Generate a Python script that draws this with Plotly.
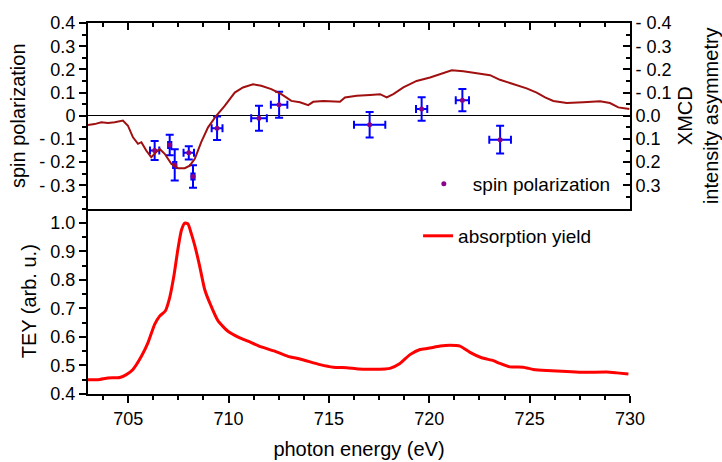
import plotly.graph_objects as go

# ---- data ----
xmcd_energy = [703.00, 703.33, 703.66, 704.00, 704.33, 704.74, 704.99, 705.24, 705.49, 705.66,
               705.90, 706.15, 706.40, 706.57, 706.82, 707.15, 707.48, 707.82, 708.07, 708.32,
               708.64, 708.98, 709.39, 709.81, 710.31, 710.72, 711.22, 711.63, 712.13, 712.63,
               713.13, 713.56, 713.97, 714.22, 714.72, 715.55, 715.80, 716.39, 717.05, 717.55,
               717.88, 718.21, 718.71, 719.37, 720.04, 720.70, 721.12, 721.70, 722.36, 723.03,
               723.52, 724.19, 724.85, 725.35, 725.77, 726.18, 726.85, 727.67, 728.51, 729.00,
               729.42, 729.97]
xmcd_value = [0.040, 0.036, 0.028, 0.031, 0.028, 0.021, 0.043, 0.093, 0.121, 0.114,
              0.150, 0.179, 0.157, 0.143, 0.164, 0.207, 0.226, 0.226, 0.215, 0.186,
              0.114, 0.050, 0.000, -0.043, -0.100, -0.122, -0.136, -0.129, -0.115, -0.093,
              -0.064, -0.058, -0.046, -0.060, -0.064, -0.060, -0.079, -0.086, -0.090, -0.093,
              -0.079, -0.093, -0.122, -0.150, -0.165, -0.183, -0.196, -0.192, -0.183, -0.175,
              -0.155, -0.136, -0.118, -0.100, -0.079, -0.064, -0.055, -0.058, -0.062, -0.055,
              -0.036, -0.029]

spin_energy = [706.32, 707.07, 707.32, 708.02, 708.23, 709.43, 711.52, 712.52, 717.03, 719.62, 721.65, 723.53]
spin_value = [-0.150, -0.126, -0.212, -0.160, -0.262, -0.054, -0.011, 0.047, -0.039, 0.029, 0.067, -0.103]
spin_err_y = [0.041, 0.044, 0.067, 0.029, 0.048, 0.051, 0.054, 0.056, 0.055, 0.051, 0.048, 0.060]
spin_err_x = [0.23, 0.08, 0.08, 0.26, 0.08, 0.27, 0.39, 0.41, 0.78, 0.28, 0.33, 0.54]

tey_energy = [703.00, 703.50, 704.00, 704.58, 704.91, 705.24, 705.66, 705.99, 706.32, 706.57,
              706.85, 707.07, 707.28, 707.48, 707.65, 707.82, 707.98, 708.15, 708.32, 708.56,
              708.81, 709.06, 709.48, 709.97, 710.56, 710.97, 711.63, 712.30, 712.96, 713.60,
              714.56, 715.22, 715.89, 716.46, 717.05, 717.80, 718.04, 718.54,
              719.04, 719.54, 719.95, 720.54, 721.03, 721.53, 722.03, 722.61, 723.19, 723.52,
              724.02, 724.68, 725.18, 725.85, 726.85, 727.67, 728.84, 729.34, 729.92]
tey_value = [0.450, 0.450, 0.456, 0.458, 0.468, 0.486, 0.532, 0.580, 0.644, 0.673,
             0.691, 0.738, 0.814, 0.908, 0.973, 0.999, 0.996, 0.961, 0.920, 0.849,
             0.767, 0.720, 0.656, 0.620, 0.597, 0.585, 0.565, 0.550, 0.532, 0.522,
             0.503, 0.494, 0.492, 0.488, 0.487, 0.488, 0.490, 0.507,
             0.538, 0.556, 0.560, 0.568, 0.571, 0.568, 0.546, 0.527, 0.517, 0.507,
             0.495, 0.494, 0.486, 0.482, 0.479, 0.476, 0.477, 0.474, 0.470]

x_ticks = [705, 710, 715, 720, 725, 730]
spin_tickvals = [-0.3, -0.2, -0.1, 0, 0.1, 0.2, 0.3, 0.4]
spin_ticktext = ["- 0.3", "- 0.2", "- 0.1", "0", "0.1", "0.2", "0.3", "0.4"]
xmcd_tickvals = [-0.4, -0.3, -0.2, -0.1, 0, 0.1, 0.2, 0.3]
xmcd_ticktext = ["- 0.4", "- 0.3", "- 0.2", "- 0.1", "0.0", "0.1", "0.2", "0.3"]
tey_ticks = [0.4, 0.5, 0.6, 0.7, 0.8, 0.9, 1.0]

FONT = "Liberation Sans, Arial, sans-serif"
TICKF = dict(family=FONT, size=18, color="black")
TITLEF = dict(family=FONT, size=20, color="black")
LEGF = dict(family=FONT, size=19, color="black")

fig = go.Figure()

fig.add_trace(go.Scatter(
    x=xmcd_energy, y=xmcd_value, xaxis="x2", yaxis="y3", mode="lines",
    line=dict(color="#a01010", width=2), showlegend=False))

fig.add_trace(go.Scatter(
    x=spin_energy, y=spin_value, xaxis="x2", yaxis="y2", mode="markers",
    name="spin polarization", legend="legend",
    marker=dict(color="#8b008b", size=5),
    error_y=dict(type="data", array=spin_err_y, color="#0000ff", thickness=2, width=4),
    error_x=dict(type="data", array=spin_err_x, color="#0000ff", thickness=2, width=4)))

fig.add_trace(go.Scatter(
    x=tey_energy, y=tey_value, xaxis="x", yaxis="y", mode="lines",
    name="absorption yield", legend="legend2",
    line=dict(color="#ff0000", width=3, shape="spline", smoothing=0.5)))

axis_common = dict(showline=True, linecolor="black", linewidth=2, showgrid=False,
                   tickcolor="black", tickwidth=2, ticklen=7, automargin=False)

fig.update_layout(
    width=722, height=462,
    margin=dict(l=88, r=92, t=23, b=68),
    paper_bgcolor="white", plot_bgcolor="white",
    font=TICKF,
    xaxis=dict(**axis_common, zeroline=False, domain=[0, 1], anchor="y", range=[703, 730],
               tickvals=x_ticks, ticks="outside", tickfont=TICKF,
               minor=dict(dtick=1.25, tick0=705, ticks="outside", ticklen=4, tickwidth=2, tickcolor="black"),
               title=dict(text="photon energy (eV)", font=TITLEF, standoff=14)),
    xaxis3=dict(**axis_common, zeroline=False, overlaying="x", matches="x", anchor="y", side="top",
                range=[703, 730], tickvals=x_ticks, ticks="inside", showticklabels=False,
                minor=dict(dtick=1.25, tick0=705, ticks="inside", ticklen=4, tickwidth=2, tickcolor="black")),
    xaxis2=dict(**axis_common, zeroline=False, anchor="y2", matches="x", side="top", range=[703, 730],
                tickvals=x_ticks, ticks="inside", showticklabels=False, mirror=True,
                minor=dict(dtick=1.25, tick0=705, ticks="inside", ticklen=4, tickwidth=2, tickcolor="black")),
    yaxis=dict(**axis_common, zeroline=False, domain=[0, 0.5], anchor="x", range=[0.4, 1.05],
               tickvals=tey_ticks, tickformat=".1f", ticks="outside", tickfont=TICKF,
               minor=dict(dtick=0.05, tick0=0.4, ticks="outside", ticklen=4, tickwidth=2, tickcolor="black"),
               title=dict(text="TEY (arb. u.)", font=TITLEF, standoff=8)),
    yaxis4=dict(**axis_common, zeroline=False, overlaying="y", anchor="x", side="right", range=[0.4, 1.05],
                tickvals=tey_ticks, ticks="inside", showticklabels=False,
                minor=dict(dtick=0.05, tick0=0.4, ticks="inside", ticklen=4, tickwidth=2, tickcolor="black")),
    yaxis2=dict(**axis_common, domain=[0.5, 1], anchor="x2", range=[-0.4, 0.4],
                zeroline=True, zerolinecolor="black", zerolinewidth=1,
                tickvals=spin_tickvals, ticktext=spin_ticktext, ticks="outside", tickfont=TICKF,
                minor=dict(dtick=0.05, tick0=0, ticks="outside", ticklen=4, tickwidth=2, tickcolor="black"),
                title=dict(text="spin polarization", font=TITLEF, standoff=8)),
    yaxis3=dict(**axis_common, zeroline=False, overlaying="y2", anchor="x2", side="right", range=[0.4, -0.4],
                tickvals=xmcd_tickvals, ticktext=xmcd_ticktext, ticks="inside", tickfont=TICKF,
                minor=dict(dtick=0.05, tick0=0, ticks="inside", ticklen=4, tickwidth=2, tickcolor="black")),
    legend=dict(x=0.603, y=0.566, xanchor="left", yanchor="middle", bgcolor="rgba(0,0,0,0)",
                font=LEGF, borderwidth=0, itemwidth=48),
    legend2=dict(x=0.609, y=0.426, xanchor="left", yanchor="middle", bgcolor="rgba(0,0,0,0)",
                 font=LEGF, borderwidth=0),
)
fig.update_layout(yaxis3_title=dict(text="XMCD<br>intensity asymmetry", font=TITLEF, standoff=8))

fig.write_html("out.html")
